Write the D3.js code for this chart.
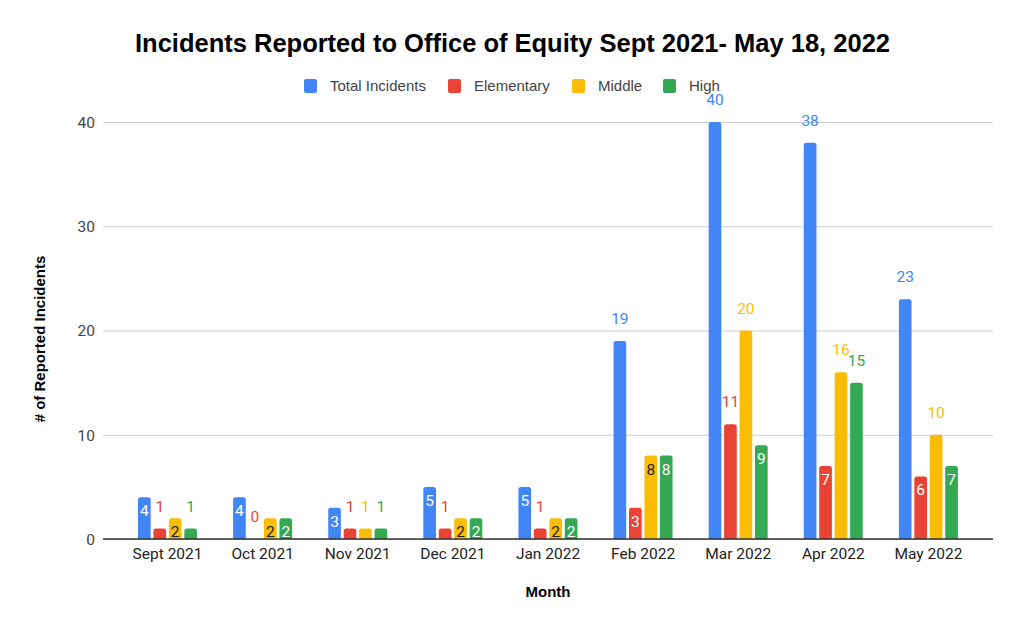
<!DOCTYPE html>
<html><head><meta charset="utf-8">
<script src="https://cdn.jsdelivr.net/npm/d3@7"></script>
<style>body{margin:0;background:#fff}svg{display:block}</style>
</head><body><svg id="c" width="1024" height="632"></svg>
<script>
const months = ["Sept 2021","Oct 2021","Nov 2021","Dec 2021","Jan 2022","Feb 2022","Mar 2022","Apr 2022","May 2022"];
const seriesNames = ["Total Incidents","Elementary","Middle","High"];
const total = [4,4,3,5,5,19,40,38,23];
const elementary = [1,0,1,1,1,3,11,7,6];
const middle = [2,2,1,2,2,8,20,16,10];
const high = [1,2,1,2,2,8,9,15,7];
const yTicks = [0,10,20,30,40];
const colors = ["#4285F4","#EA4335","#FBBC04","#34A853"];
const insideText = ["#fff","#fff","#222","#fff"];
const values = [total, elementary, middle, high];

const svg = d3.select("#c");
const x0 = d3.scaleBand().domain(months).range([120,976]).padding(0);
const x1 = d3.scaleBand().domain(seriesNames).range([18,77]).paddingInner(0.18);
const y = d3.scaleLinear().domain([0,40]).range([539,122]);
const arial = "'Liberation Sans',Arial,sans-serif";
const roboto = "Roboto,'Liberation Sans',Arial,sans-serif";

// title
svg.append("text").attr("x",512.5).attr("y",52).attr("text-anchor","middle")
  .style("font-family",arial).attr("font-weight","bold")
  .attr("font-size",25).attr("fill","#000")
  .attr("textLength",755).attr("lengthAdjust","spacingAndGlyphs")
  .text("Incidents Reported to Office of Equity Sept 2021- May 18, 2022");

// legend
const legX = [304,448,572,663];
const leg = svg.append("g");
seriesNames.forEach((s,i)=>{
  leg.append("rect").attr("x",legX[i]).attr("y",79).attr("width",13).attr("height",14).attr("rx",2).attr("fill",colors[i]);
  leg.append("text").attr("x",legX[i]+26).attr("y",91).style("font-family",arial).attr("font-size",15).attr("fill","#444").text(s);
});

// grid
const yAxis = d3.axisLeft(y).tickValues(yTicks).tickSize(-(993-103)).tickPadding(8);
const gy = svg.append("g").attr("transform","translate(103,0)").call(yAxis);
gy.select(".domain").remove();
gy.selectAll(".tick line").attr("stroke","#ccc").attr("stroke-width",1);
gy.selectAll(".tick text").attr("font-size",15.5).attr("fill","#444").attr("x",-8).attr("dy","0.35em")
  .style("font-family",roboto);

// bars
function barPath(x,yTop,w,h){
  const r = Math.min(2.5,h/2,w/2);
  if(h<=0) return "";
  return `M${x},${yTop+h}V${yTop+r}Q${x},${yTop} ${x+r},${yTop}H${x+w-r}Q${x+w},${yTop} ${x+w},${yTop+r}V${yTop+h}Z`;
}
const g = svg.append("g");
months.forEach((m,mi)=>{
  seriesNames.forEach((s,si)=>{
    const v = values[si][mi];
    const bx = x0(m)+x1(s), bw = x1.bandwidth();
    const top = y(v), h = y(0)-y(v);
    g.append("path").attr("d",barPath(bx,top,bw,h)).attr("fill",colors[si]);
    const inside = v>=2 && v<10;
    g.append("text").attr("x",bx+bw/2).attr("y", inside ? top+19 : top-17)
      .attr("text-anchor","middle").attr("font-size",15.5).style("font-family",roboto)
      .attr("fill", inside ? insideText[si] : colors[si]).text(v);
  });
});

// x axis
const xAxis = d3.axisBottom(x0).tickSize(0).tickPadding(9);
const gx = svg.append("g").attr("transform","translate(0,539)").call(xAxis);
gx.select(".domain").remove();
gx.selectAll(".tick text").attr("font-size",15.5).attr("fill","#222")
  .style("font-family",roboto);
svg.append("line").attr("x1",103).attr("x2",993).attr("y1",539).attr("y2",539).attr("stroke","#333").attr("stroke-width",1.5);

// axis titles
svg.append("text").attr("x",548).attr("y",597).attr("text-anchor","middle").attr("font-size",15)
  .style("font-family",arial).attr("font-weight","bold").attr("fill","#000").text("Month");
svg.append("text").attr("transform","translate(45,339) rotate(-90)").attr("text-anchor","middle")
  .style("font-family",arial).attr("font-size",15).attr("font-weight","bold").attr("fill","#000").text("# of Reported Incidents");
</script></body></html>
